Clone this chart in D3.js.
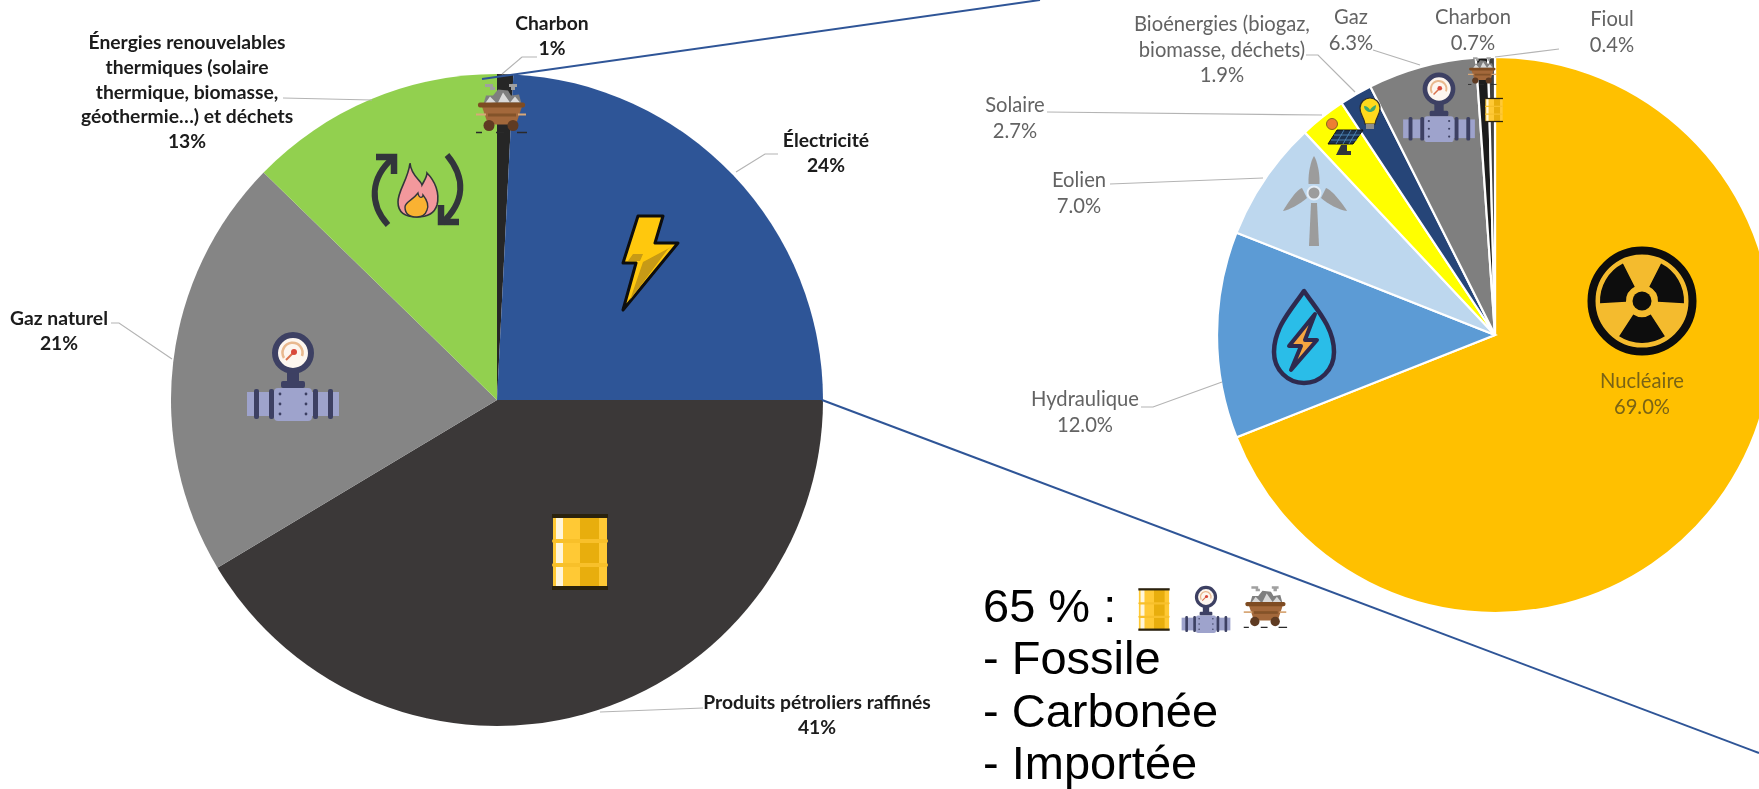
<!DOCTYPE html>
<html lang="fr">
<head>
<meta charset="utf-8">
<title>Consommation finale d'énergie et mix électrique</title>
<script src="https://cdn.jsdelivr.net/npm/d3@7"></script>
<style>
  html, body { margin: 0; padding: 0; background: #fff; }
  svg { display: block; }
  .lbl-left { font-family: Lato, sans-serif; font-weight: 700; font-size: 19.3px; fill: #1a1a1a; text-anchor: middle; }
  .lbl-right { font-family: Lato, sans-serif; font-size: 20.2px; fill: #636363; text-anchor: middle; }
  .leader { fill: none; stroke: #b4b4b4; stroke-width: 1.2; }
  .note { font-family: "Liberation Sans", Arial, sans-serif; font-size: 47px; fill: #000; }
</style>
</head>
<body>
<svg id="chart" width="1759" height="789"></svg>
<script>
//Data
const finalCategories = [["Charbon"], ["Électricité"], ["Produits pétroliers raffinés"], ["Gaz naturel"],
  ["Énergies renouvelables", "thermiques (solaire", "thermique, biomasse,", "géothermie…) et déchets"]];
const finalValues = [0.8, 24.2, 41.4, 20.9, 12.7];
const finalColors = ["#262626", "#2F5597", "#3B3838", "#858585", "#92D050"];

const elecCategories = [["Nucléaire"], ["Hydraulique"], ["Eolien"], ["Solaire"],
  ["Bioénergies (biogaz,", "biomasse, déchets)"], ["Gaz"], ["Charbon"], ["Fioul"]];
const elecValues = [69.0, 12.0, 7.0, 2.7, 1.9, 6.3, 0.7, 0.4];
const elecColors = ["#FFC000", "#5B9BD5", "#BDD7EE", "#FFFF00", "#264478", "#7F7F7F", "#1E1E1E", "#404040"];

const noteLines = ["65 % :", "- Fossile", "- Carbonée", "- Importée"];

//Layout
const svg = d3.select("#chart");
const defs = svg.append("defs");
defs.append("filter").attr("id", "soft").attr("x", "-5%").attr("y", "-5%").attr("width", "110%").attr("height", "110%")
    .append("feGaussianBlur").attr("stdDeviation", 0.55);

const chart = svg.append("g").attr("filter", "url(#soft)");
const leftPie = { cx: 497, cy: 400, r: 326 };
const rightPie = { cx: 1495, cy: 335, r: 278 };

function drawPie(pos, values, colors, strokeW) {
  const pie = d3.pie().sort(null).value(d => d);
  const arc = d3.arc().innerRadius(0).outerRadius(pos.r);
  chart.append("g")
       .attr("transform", "translate(" + pos.cx + "," + pos.cy + ")")
       .selectAll("path")
       .data(pie(values))
       .enter()
       .append("path")
       .attr("d", arc)
       .attr("fill", (d, i) => colors[i])
       .attr("stroke", strokeW ? "#fff" : "none")
       .attr("stroke-width", strokeW);
}
drawPie(leftPie, finalValues, finalColors, 0);
drawPie(rightPie, elecValues, elecColors, 2.2);

//Leader lines
const leaders = [
  [[537, 57], [522, 57], [502, 74]],
  [[778, 154], [765, 154], [736, 172]],
  [[703, 708], [600, 712]],
  [[111, 323], [119, 323], [172, 359]],
  [[283, 98], [372, 100]],
  [[1141, 407], [1153, 407], [1222, 382]],
  [[1110, 184], [1263, 178]],
  [[1047, 112], [1322, 115]],
  [[1306, 55], [1318, 55], [1355, 92]],
  [[1373, 50], [1420, 65]],
  [[1559, 49], [1495, 57]]
];
chart.selectAll(".leader")
     .data(leaders)
     .enter()
     .append("path")
     .classed("leader", true)
     .attr("d", d3.line());

//Labels: center x and y of first line, same order as the arrays
const finalSpots = [[552, 23], [826, 140], [817, 702], [59, 318], [187, 42]];
const elecSpots = [[1642, 381], [1085, 399], [1079, 180], [1015, 105], [1222, 24], [1351, 17], [1473, 17], [1612, 19]];

function drawLabels(names, values, spots, cls, fmt, step) {
  names.forEach((lines, i) => {
    const txt = chart.append("text").attr("class", cls);
    lines.concat(fmt(values[i]) + "%").forEach((line, k) => {
      txt.append("tspan")
         .attr("x", spots[i][0])
         .attr("y", spots[i][1] + k * step)
         .attr("dy", "0.36em")
         .text(line);
    });
    if (names === elecCategories && i === 0) txt.style("fill", "#7A6414");
  });
}
drawLabels(finalCategories, finalValues, finalSpots, "lbl-left", d3.format(".0f"), 24.8);
drawLabels(elecCategories, elecValues, elecSpots, "lbl-right", d3.format(".1f"), 25.6);

//Icons
function place(x, y, s) {
  return chart.append("g").attr("transform", "translate(" + x + "," + y + ") scale(" + s + ")");
}

function barrel(x, y, s) { // 55 x 76 box, centered
  const g = place(x, y, s);
  g.append("rect").attr("x", -27).attr("y", -36).attr("width", 54).attr("height", 72).attr("fill", "#FFC935");
  g.append("rect").attr("x", -24).attr("y", -36).attr("width", 7).attr("height", 72).attr("fill", "#FFF6DC");
  g.append("rect").attr("x", 0).attr("y", -36).attr("width", 19).attr("height", 72).attr("fill", "#E8AE0E");
  [-38, 34].forEach(yy => {
    g.append("rect").attr("x", -28).attr("y", yy).attr("width", 56).attr("height", 4).attr("fill", "#2b2410");
  });
  [-13, 11].forEach(yy => {
    g.append("rect").attr("x", -28).attr("y", yy).attr("width", 56).attr("height", 4).attr("rx", 2).attr("fill", "#F8C02C");
  });
}

function gas(x, y, s) { // origin on the gauge center
  const g = place(x, y, s);
  const dark = "#3D4163", pipe = "#9EA3CC";
  g.append("rect").attr("x", -6).attr("y", 18).attr("width", 12).attr("height", 14).attr("fill", dark);
  g.append("rect").attr("x", -12).attr("y", 28).attr("width", 24).attr("height", 7).attr("rx", 2).attr("fill", dark);
  g.append("rect").attr("x", -46).attr("y", 39).attr("width", 92).attr("height", 24).attr("fill", pipe);
  g.append("rect").attr("x", -19).attr("y", 35).attr("width", 38).attr("height", 33).attr("rx", 4).attr("fill", pipe);
  [-39, -24, 20, 35].forEach(xx => {
    g.append("rect").attr("x", xx).attr("y", 36).attr("width", 5).attr("height", 30).attr("rx", 2).attr("fill", dark);
  });
  [-13, 13].forEach(xx => [41, 51, 61].forEach(yy => {
    g.append("circle").attr("cx", xx).attr("cy", yy).attr("r", 1.4).attr("fill", dark);
  }));
  g.append("circle").attr("r", 18).attr("fill", "#FDF6EF").attr("stroke", dark).attr("stroke-width", 6);
  g.append("path").attr("d", "M-9,5A10,10 0 1 1 9,3").attr("fill", "none").attr("stroke", "#E9B98F").attr("stroke-width", 2.5);
  g.append("path").attr("d", "M-7,7L1,-1").attr("stroke", "#D9724E").attr("stroke-width", 2);
  g.append("circle").attr("cx", 1).attr("cy", -1).attr("r", 3).attr("fill", "#D9483B");
}

function cart(x, y, s) { // 52 x 51 box, centered
  const g = place(x, y, s);
  g.append("path").attr("d", "M-16,-23h8M-11,-20h5M8,-23h8M10,-20h4").attr("stroke", "#a0a0a0").attr("stroke-width", 3);
  g.append("path").attr("d", "M-18,-3L-15,-13L-8,-13L-3,-19L7,-18L10,-13L18,-14L21,-3Z").attr("fill", "#7f7f7f");
  g.append("path").attr("d", "M-16,-5L-11,-12L-5,-6ZM-3,-6L2,-16L9,-6ZM9,-6L14,-12L19,-6Z").attr("fill", "#DADADA");
  g.append("path").attr("d", "M-20,-5H22L15,16H-13Z").attr("fill", "#A3683A");
  g.append("rect").attr("x", -23).attr("y", -6).attr("width", 47).attr("height", 5).attr("rx", 2).attr("fill", "#7E4C20");
  g.append("rect").attr("x", -13).attr("y", 5).attr("width", 28).attr("height", 3).attr("fill", "#835229");
  g.append("path").attr("d", "M-25,6h10M17,6h8").attr("stroke", "#D8A878").attr("stroke-width", 2);
  [-12, 12].forEach(xx => {
    g.append("circle").attr("cx", xx).attr("cy", 17).attr("r", 5.5).attr("fill", "#5E3A22");
  });
  g.append("path").attr("d", "M-25,24h6M-5,24h8M16,24h10").attr("stroke", "#2a2a2a").attr("stroke-width", 1.6);
}

function flame(x, y) {
  const g = place(x, y, 1);
  const ink = "#33363b";
  g.append("path")
   .attr("d", "M-8,-27C-7,-14 3,-10 4,-5C6,-9 9,-13 9,-17C17,-9 22,3 19,15C16,25 8,27 -1,27C-13,27 -20,22 -20,12C-20,0 -10,-10 -8,-27Z")
   .attr("fill", "#F2989C").attr("stroke", ink).attr("stroke-width", 1.6);
  g.append("path")
   .attr("d", "M0,3C1,9 5,8 5,5C9,10 11,15 9,20C7,26 2,27 -1,27C-8,27 -13,24 -13,17C-13,12 -5,10 0,3Z")
   .attr("fill", "#F9B233").attr("stroke", ink).attr("stroke-width", 1.4);
  const arrows = g.append("g").attr("fill", "none").attr("stroke", ink).attr("stroke-linecap", "butt");
  arrows.append("path").attr("d", "M-30,35C-49,14 -48,-12 -25,-32").attr("stroke-width", 6);
  arrows.append("path").attr("d", "M-42,-33H-24V-16").attr("stroke-width", 6.5);
  arrows.append("path").attr("d", "M29,-35C48,-12 47,12 24,33").attr("stroke-width", 6);
  arrows.append("path").attr("d", "M41,32H23V15").attr("stroke-width", 6.5);
}

function bolt() {
  const g = place(0, 0, 1);
  g.append("path").attr("d", "M638,216H663L655,243H678L623,310L636,263H623Z")
   .attr("fill", "#FFC80B").attr("stroke", "#0c0c0c").attr("stroke-width", 3).attr("stroke-linejoin", "round");
  g.append("path").attr("d", "M628,261L633,254H643L640,261ZM630,300L643,262L673,246L668,249Z").attr("fill", "#C79A12");
}

function drop(x, y) {
  const g = place(x, y, 1);
  g.append("path").attr("d", "M0,-46C-12,-28 -30,-10 -30,15C-30,33 -16,46 0,46C16,46 30,33 30,15C30,-10 12,-28 0,-46Z")
   .attr("fill", "#2BBDE8").attr("stroke", "#2E2A50").attr("stroke-width", 4.5).attr("stroke-linejoin", "round");
  g.append("path").attr("d", "M11,-23L-15,9H-3L-13,33L13,3H1Z")
   .attr("fill", "#F5A640").attr("stroke", "#2E2A50").attr("stroke-width", 4).attr("stroke-linejoin", "round");
}

function radiation(x, y) {
  const g = place(x, y, 1);
  g.append("circle").attr("r", 50.5).attr("fill", "#F4BB2E").attr("stroke", "#0a0a0a").attr("stroke-width", 8);
  const blade = d3.arc().innerRadius(16).outerRadius(42);
  [-60, 60, 180].forEach(a => {
    g.append("path")
     .attr("d", blade({ startAngle: (a - 33) * Math.PI / 180, endAngle: (a + 33) * Math.PI / 180 }))
     .attr("fill", "#0a0a0a");
  });
  g.append("circle").attr("r", 9.5).attr("fill", "#0a0a0a");
}

function turbine(x, y) {
  const g = place(x, y, 1);
  const grey = "#9C9C9C";
  g.append("path").attr("d", "M-3,10L-5,53H5L3,10Z").attr("fill", grey);
  g.append("path").attr("d", "M-5.5,-9C-6,-20 -3,-33 0,-37C3,-33 6,-20 5.5,-9Z").attr("fill", grey);
  g.append("path").attr("d", "M-7,5C-14,11 -25,17 -31,18C-27,11 -18,-3 -12,-5Z").attr("fill", grey);
  g.append("path").attr("d", "M7,5C14,11 25,17 33,18C29,11 18,-3 12,-5Z").attr("fill", grey);
  g.append("circle").attr("r", 6.5).attr("fill", grey).attr("stroke", "#E4EEF8").attr("stroke-width", 2);
}

function solar(x, y) { // origin on the sun
  const g = place(x, y, 1);
  g.append("circle").attr("r", 5.5).attr("fill", "#ED7D31").attr("stroke", "#8a6a1a").attr("stroke-width", 1);
  g.append("path").attr("d", "M5,6H31L21,20H-4Z").attr("fill", "#1F3350").attr("stroke", "#111").attr("stroke-width", 1);
  g.append("path").attr("d", "M12,6L4,20M19,6L11,20M25,6L17,20M2,11H28M-1,16H25").attr("stroke", "#4C86B8").attr("stroke-width", 0.9);
  g.append("path").attr("d", "M9,21H15V27H19V31H4Z").attr("fill", "#33363b");
}

function bulb(x, y) {
  const g = place(x, y, 1);
  g.append("path").attr("d", "M-5,14C-6,7 -10,5 -10,-2C-10,-8 -5,-12 0,-12C5,-12 10,-8 10,-2C10,5 6,7 5,14Z")
   .attr("fill", "#FFD91A").attr("stroke", "#2d2d2d").attr("stroke-width", 1.2);
  g.append("path").attr("d", "M0,9V2C-2,2 -6,0 -6,-4C-3,-4 -1,-2 0,0C1,-2 3,-4 6,-5C6,0 3,2 0,2Z").attr("fill", "#41A86C");
  g.append("rect").attr("x", -4).attr("y", 14).attr("width", 8).attr("height", 5).attr("fill", "#8c8c8c");
}

// pie 1
cart(501, 108.5, 1);
flame(418, 190);
bolt();
gas(293, 353, 1);
barrel(580, 552, 1);
// pie 2
drop(1304, 337);
radiation(1642, 301);
turbine(1314, 193);
solar(1332, 124);
bulb(1370, 110);
gas(1439, 89, 0.78);
cart(1482, 71, 0.56);
barrel(1494, 110, 0.32);
// note
barrel(1154, 609.5, 0.56);
gas(1206, 597, 0.53);
cart(1265, 607, 0.85);

//Zoom lines
[[[482, 79], [1040, 0]], [[822, 400], [1759, 753]]].forEach(seg => {
  svg.append("path").attr("d", d3.line()(seg)).attr("fill", "none")
     .attr("stroke", "#2F5597").attr("stroke-width", 2);
});

//Note, drawn unblurred
svg.append("g").selectAll("text")
   .data(noteLines)
   .enter()
   .append("text")
   .classed("note", true)
   .attr("x", 983)
   .attr("y", (d, i) => 621.5 + i * 52.5)
   .text(d => d);
</script>
</body>
</html>
